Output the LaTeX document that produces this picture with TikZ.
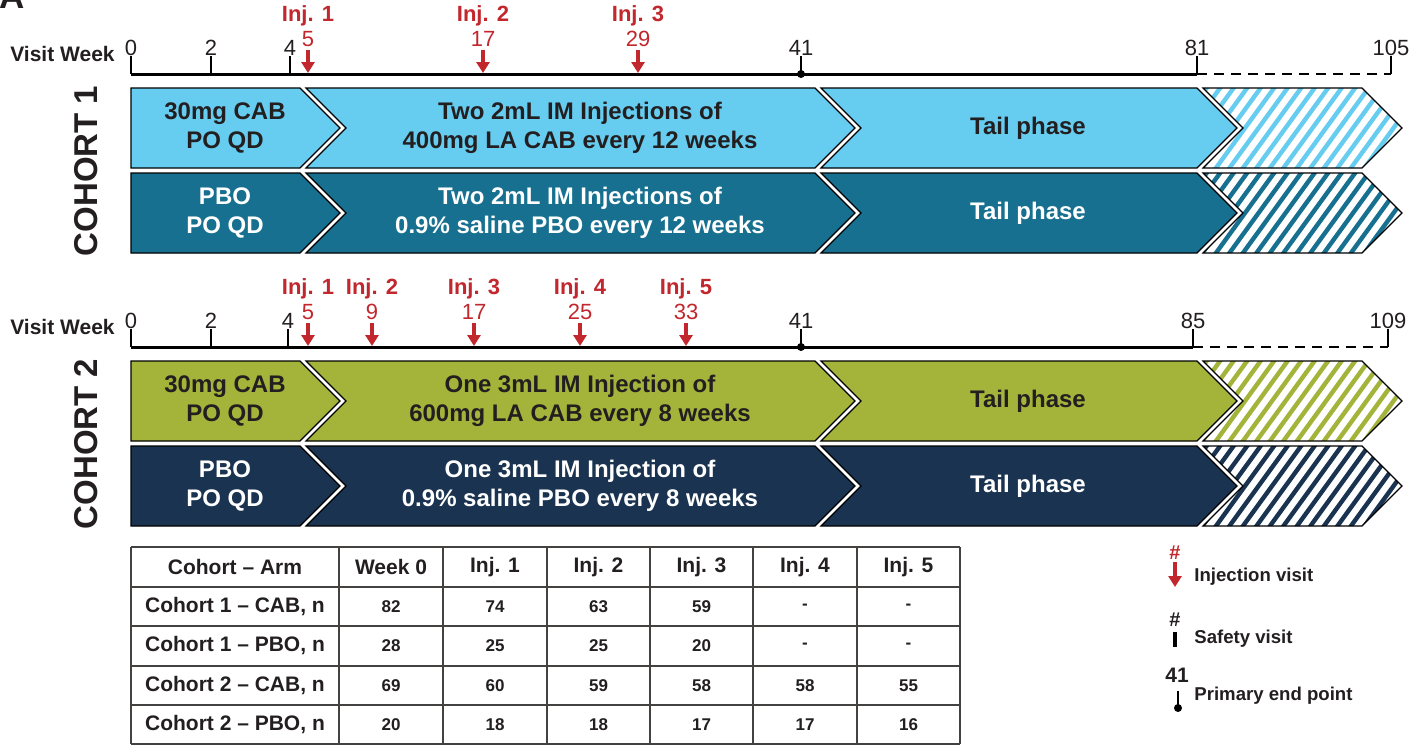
\documentclass[tikz,border=0pt]{standalone}
\usepackage{fontspec}
\setmainfont{Liberation Sans}
\usetikzlibrary{arrows.meta}
\definecolor{cabone}{HTML}{66CDF0}
\definecolor{pboone}{HTML}{17708F}
\definecolor{cabtwo}{HTML}{A4B43A}
\definecolor{pbotwo}{HTML}{1A3350}
\definecolor{injred}{HTML}{C1272D}
\definecolor{ink}{HTML}{231F20}
\tikzset{
 seg/.style={draw=black, line width=0.6pt},
 barlbl/.style={font=\bfseries\fontsize{12}{14.5}\selectfont, align=center, inner sep=0pt},
 axnum/.style={font=\fontsize{11}{13}\selectfont, text=ink, anchor=base, inner sep=0pt},
 injnum/.style={axnum, text=injred},
 injlbl/.style={font=\bfseries\fontsize{11}{13}\selectfont, text=injred, anchor=base, inner sep=0pt},
 axisline/.style={line width=1.5pt, draw=black},
 dashline/.style={line width=1.1pt, draw=black, dash pattern=on 5pt off 3.5pt},
 tickline/.style={line width=1.3pt, draw=black},
 injarrow/.style={draw=injred, line width=1.7pt, -{Triangle[width=6.5pt,length=5.5pt]}},
 vislbl/.style={font=\bfseries\fontsize{10.5}{12}\selectfont, text=ink, anchor=base east, inner sep=0pt},
 cohlbl/.style={font=\bfseries\fontsize{16.5}{18}\selectfont, text=ink, rotate=90, inner sep=0pt},
 tblline/.style={draw=ink!85, line width=0.8pt},
 tblhead/.style={font=\bfseries\fontsize{10.5}{12}\selectfont, text=ink, inner sep=0pt},
 tblcell/.style={font=\bfseries\fontsize{8.5}{10}\selectfont, text=ink, inner sep=0pt},
 leglbl/.style={font=\bfseries\fontsize{9.3}{11}\selectfont, text=ink, anchor=west, inner sep=0pt},
 leghash/.style={font=\bfseries\fontsize{10}{12}\selectfont, inner sep=0pt},
}
% name, top, fill, text colour, oral text, injection text
\newcommand{\armbar}[6]{%
\begin{scope}[shift={(0,#2)}]
 \path[seg, fill=#3] (131,0) -- (300,0) -- (340,40) -- (300,80) -- (131,80) -- cycle;
 \path[seg, fill=#3] (306,0) -- (815,0) -- (855,40) -- (815,80) -- (306,80) -- (346,40) -- cycle;
 \path[seg, fill=#3] (821,0) -- (1197,0) -- (1237,40) -- (1197,80) -- (821,80) -- (861,40) -- cycle;
 \begin{scope}
  \clip (1203,0) -- (1362,0) -- (1402,40) -- (1362,80) -- (1203,80) -- (1243,40) -- cycle;
  \fill[white] (1190,-5) rectangle (1410,85);
  \foreach \sx in {1120,1133.5,...,1420} \draw[#3, line width=2.2pt] (\sx,82) -- ({\sx+61},-2);
 \end{scope}
 \path[seg] (1203,0) -- (1362,0) -- (1402,40) -- (1362,80) -- (1203,80) -- (1243,40) -- cycle;
 \node[barlbl, text=#4] (#1-oral) at (225,40) {#5};
 \node[barlbl, text=#4] (#1-inj) at (580,40) {#6};
 \node[barlbl, text=#4] (#1-tail) at (1028,40) {Tail phase};
\end{scope}}
\begin{document}
\begin{tikzpicture}[x=0.5pt,y=-0.5pt]
\useasboundingbox (0,0) rectangle (1413,751);

\node[anchor=base west, inner sep=0pt, font=\bfseries\fontsize{17.5}{18}\selectfont, text=ink] (panelA) at (-1,8) {A};

% ---------------- Cohort 1 axis
\node[vislbl] (c1vw) at (115,61) {Visit Week};
\coordinate (c1a0) at (131,74);
\coordinate (c1a81) at (1197,74);
\coordinate (c1a105) at (1391,74);
\draw[axisline] (c1a0) -- (c1a81);
\draw[dashline] (c1a81) -- (c1a105);
\foreach \tx/\tl [count=\i] in {131/0,211/2,290/4,1197/81,1391/105} {
  \coordinate (c1t\i) at (\tx,56); \coordinate (c1b\i) at (\tx,74);
  \draw[tickline] (c1t\i) -- (c1b\i);
  \node[axnum] (c1n\i) at (\tx,55) {\tl};
}
\coordinate (c1pt) at (801,56); \coordinate (c1pb) at (801,74);
\draw[tickline] (c1pt) -- (c1pb);
\fill (c1pb) circle[radius=4];
\node[axnum] (c1n41) at (801,55) {41};
\foreach \ax/\an/\al in {308/5/1,483/17/2,638/29/3} {
  \node[injlbl] (c1inj\al) at (\ax,21) {Inj. \al};
  \node[injnum] (c1in\al) at (\ax,46) {\an};
  \coordinate (c1as\al) at (\ax,50); \coordinate (c1ae\al) at (\ax,73);
  \draw[injarrow] (c1as\al) -- (c1ae\al);
}

\armbar{c1cab}{88}{cabone}{ink}{30mg CAB\\PO QD}{Two 2mL IM Injections of\\400mg LA CAB every 12 weeks}
\armbar{c1pbo}{173}{pboone}{white}{PBO\\PO QD}{Two 2mL IM Injections of\\0.9\% saline PBO every 12 weeks}
\node[cohlbl] (coh1) at (86,171) {COHORT 1};

% ---------------- Cohort 2 axis
\node[vislbl] (c2vw) at (115,334) {Visit Week};
\coordinate (c2a0) at (131,347);
\coordinate (c2a85) at (1193,347);
\coordinate (c2a109) at (1388,347);
\draw[axisline] (c2a0) -- (c2a85);
\draw[dashline] (c2a85) -- (c2a109);
\foreach \tx/\tl [count=\i] in {131/0,211/2,288/4,1193/85,1388/109} {
  \coordinate (c2t\i) at (\tx,329); \coordinate (c2b\i) at (\tx,347);
  \draw[tickline] (c2t\i) -- (c2b\i);
  \node[axnum] (c2n\i) at (\tx,328) {\tl};
}
\coordinate (c2pt) at (801,329); \coordinate (c2pb) at (801,347);
\draw[tickline] (c2pt) -- (c2pb);
\fill (c2pb) circle[radius=4];
\node[axnum] (c2n41) at (801,328) {41};
\foreach \ax/\an/\al in {308/5/1,372/9/2,474/17/3,580/25/4,686/33/5} {
  \node[injlbl] (c2inj\al) at (\ax,294) {Inj. \al};
  \node[injnum] (c2in\al) at (\ax,319) {\an};
  \coordinate (c2as\al) at (\ax,323); \coordinate (c2ae\al) at (\ax,346);
  \draw[injarrow] (c2as\al) -- (c2ae\al);
}

\armbar{c2cab}{361}{cabtwo}{ink}{30mg CAB\\PO QD}{One 3mL IM Injection of\\600mg LA CAB every 8 weeks}
\armbar{c2pbo}{446}{pbotwo}{white}{PBO\\PO QD}{One 3mL IM Injection of\\0.9\% saline PBO every 8 weeks}
\node[cohlbl] (coh2) at (86,444) {COHORT 2};

% ---------------- Table
\foreach \cx in {131,339,443,547,650,753,857,960} \draw[tblline] (\cx,547) -- (\cx,744);
\foreach \ry in {547,587,626,666,705,744} \draw[tblline] (131,\ry) -- (960,\ry);
\foreach \hxpos/\hlbl [count=\hi] in {235/{Cohort \textendash\ Arm},391/{Week 0},495/{Inj. 1},598.5/{Inj. 2},701.5/{Inj. 3},805/{Inj. 4},908.5/{Inj. 5}}
  \node[tblhead] (th\hi) at (\hxpos,567) {\hlbl};
\foreach \rowy/\rowlbl/\cA/\cB/\cC/\cD/\cE/\cF [count=\rr] in {
  606.5/{Cohort 1 \textendash\ CAB, n}/82/74/63/59/-/-,
  646/{Cohort 1 \textendash\ PBO, n}/28/25/25/20/-/-,
  685.5/{Cohort 2 \textendash\ CAB, n}/69/60/59/58/58/55,
  724.5/{Cohort 2 \textendash\ PBO, n}/20/18/18/17/17/16} {
  \node[tblhead] (tr\rr) at (235,\rowy) {\rowlbl};
  \node[tblcell] (tc\rr a) at (391,\rowy) {\cA};
  \node[tblcell] (tc\rr b) at (495,\rowy) {\cB};
  \node[tblcell] (tc\rr c) at (598.5,\rowy) {\cC};
  \node[tblcell] (tc\rr d) at (701.5,\rowy) {\cD};
  \node[tblcell] (tc\rr e) at (805,\rowy) {\cE};
  \node[tblcell] (tc\rr f) at (908.5,\rowy) {\cF};
}

% ---------------- Legend
\node[leghash, text=injred] (lg1h) at (1175,553) {\#};
\coordinate (lg1s) at (1175,562); \coordinate (lg1e) at (1175,587);
\draw[injarrow] (lg1s) -- (lg1e);
\node[leglbl] (lg1t) at (1194,577) {Injection visit};
\node[leghash, text=ink] (lg2h) at (1175,620) {\#};
\coordinate (lg2s) at (1175,632); \coordinate (lg2e) at (1175,647);
\draw[line width=1.6pt] (lg2s) -- (lg2e);
\node[leglbl] (lg2t) at (1194,639) {Safety visit};
\node[leghash, text=ink, font=\bfseries\fontsize{10.5}{12}\selectfont] (lg3h) at (1177,675) {41};
\coordinate (lg3s) at (1178,691); \coordinate (lg3e) at (1178,708);
\draw[line width=1.1pt] (lg3s) -- (lg3e);
\fill (lg3e) circle[radius=4];
\node[leglbl] (lg3t) at (1194,696) {Primary end point};
\end{tikzpicture}
\end{document}
